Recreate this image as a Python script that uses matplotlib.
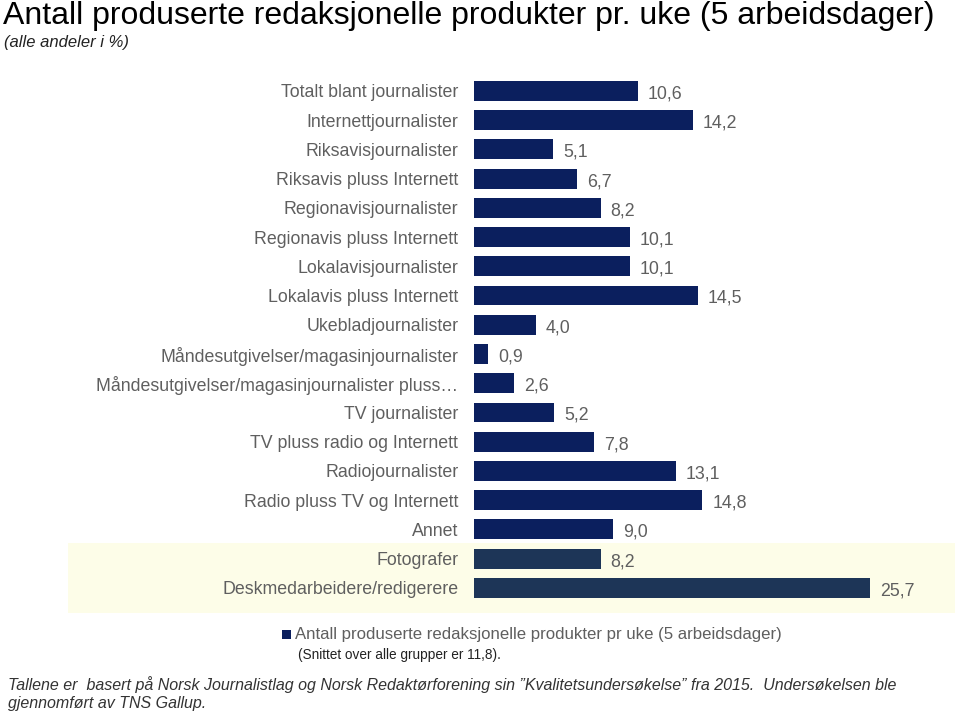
import matplotlib.pyplot as plt
from matplotlib.patches import Rectangle

plt.rcParams['font.family'] = ['Liberation Sans', 'DejaVu Sans']

categories = ['Totalt blant journalister', 'Internettjournalister', 'Riksavisjournalister',
              'Riksavis pluss Internett', 'Regionavisjournalister', 'Regionavis pluss Internett',
              'Lokalavisjournalister', 'Lokalavis pluss Internett', 'Ukebladjournalister',
              'Måndesutgivelser/magasinjournalister',
              'Måndesutgivelser/magasinjournalister pluss…',
              'TV journalister', 'TV pluss radio og Internett', 'Radiojournalister',
              'Radio pluss TV og Internett', 'Annet', 'Fotografer',
              'Deskmedarbeidere/redigerere']
values = [10.6, 14.2, 5.1, 6.7, 8.2, 10.1, 10.1, 14.5, 4.0, 0.9, 2.6, 5.2, 7.8, 13.1, 14.8, 9.0, 8.2, 25.7]
highlighted = ['Fotografer', 'Deskmedarbeidere/redigerere']

navy = '#0b1f5e'
slate = '#1d3557'
grey = '#5f5f5f'

fig = plt.figure(figsize=(9.6, 7.13), dpi=100)

# light yellow band behind the last two rows
fig.patches.append(Rectangle((0.071, 0.140), 0.924, 0.098, transform=fig.transFigure,
                             facecolor='#fdfde8', edgecolor='none', zorder=-1))

ax = fig.add_axes([0.494, 0.155, 0.504, 0.738])
ax.patch.set_alpha(0)

ypos = list(range(len(categories)))
colors = [slate if c in highlighted else navy for c in categories]
bars = ax.barh(ypos, values, height=0.68, color=colors)
for y, v in zip(ypos, values):
    ax.text(v + 0.65, y + 0.1, f'{v:.1f}'.replace('.', ','), va='center', ha='left',
            fontsize=12.8, color=grey)

ax.set_ylim(len(categories) - 0.5, -0.5)
ax.set_xlim(0, 31.4)
ax.set_yticks(ypos)
ax.set_yticklabels(categories, fontsize=12.8, color=grey)
ax.tick_params(axis='y', length=0, pad=11.5)
ax.set_xticks([])
for s in ax.spines.values():
    s.set_visible(False)

fig.text(0.003, 0.978, 'Antall produserte redaksjonelle produkter pr. uke (5 arbeidsdager)',
         fontsize=23, va='center', ha='left', color='black')
fig.text(0.004, 0.94, '(alle andeler i %)', fontsize=12, style='italic', va='center', ha='left',
         color='#222222')

# legend
fig.patches.append(Rectangle((0.294, 0.104), 0.009, 0.013, transform=fig.transFigure,
                             facecolor=navy, edgecolor='none'))
fig.text(0.307, 0.110, 'Antall produserte redaksjonelle produkter pr uke (5 arbeidsdager)',
         fontsize=12.1, color=grey, va='center', ha='left')
fig.text(0.310, 0.081, '(Snittet over alle grupper er 11,8).', fontsize=9.8, color='#222222',
         va='center', ha='left')

fig.text(0.008, 0.040, 'Tallene er  basert på Norsk Journalistlag og Norsk Redaktørforening sin '
         '\u201dKvalitetsundersøkelse\u201d fra 2015.  Undersøkelsen ble', fontsize=11.5,
         style='italic', color='#333333', va='center', ha='left')
fig.text(0.008, 0.013, 'gjennomført av TNS Gallup.', fontsize=11.5, style='italic',
         color='#333333', va='center', ha='left')

fig.savefig('out.png', dpi=100)
